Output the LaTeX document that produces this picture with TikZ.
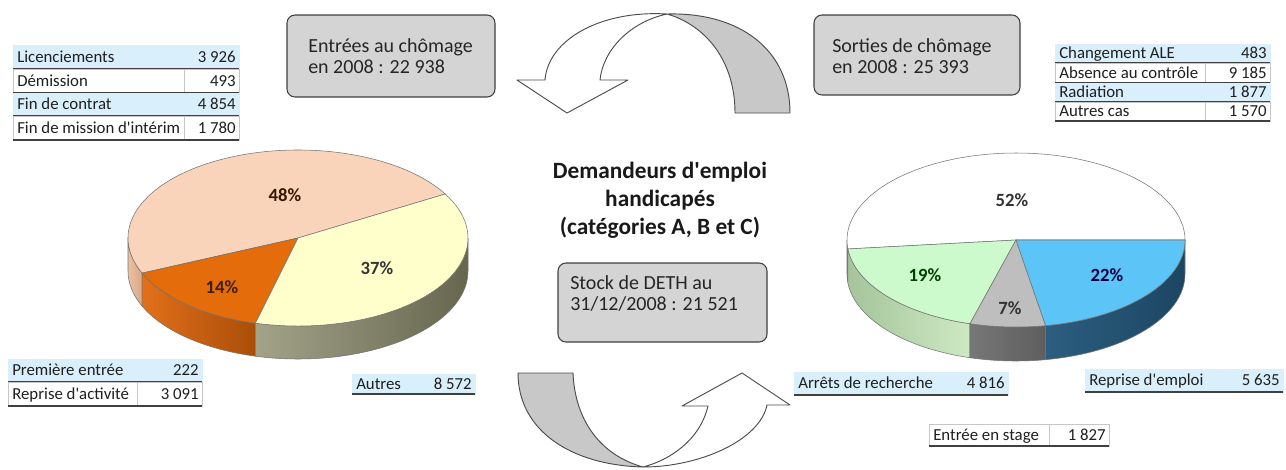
\documentclass[tikz,border=0pt]{standalone}
\usepackage{fontspec}
\setmainfont{Carlito}
\definecolor{rowblue}{HTML}{D9EFFC}
\definecolor{boxgray}{HTML}{D4D4D4}
\definecolor{arrowfill}{HTML}{C8C8C8}
\definecolor{peachtop}{HTML}{FAD4BA}
\definecolor{peachsideA}{HTML}{EBC0A2}
\definecolor{peachsideB}{HTML}{D9A886}
\definecolor{orangetop}{HTML}{E46C0A}
\definecolor{orangesideA}{HTML}{E2701A}
\definecolor{orangesideB}{HTML}{A94E08}
\definecolor{yellowtop}{HTML}{FFFFCC}
\definecolor{yellowsideA}{HTML}{A3A38A}
\definecolor{yellowsideB}{HTML}{66664F}
\definecolor{greentop}{HTML}{CCFACC}
\definecolor{greensideA}{HTML}{A5C49B}
\definecolor{greensideB}{HTML}{CDE9C4}
\definecolor{graytop}{HTML}{BEBEBE}
\definecolor{graysideA}{HTML}{777777}
\definecolor{graysideB}{HTML}{5E5E5E}
\definecolor{bluetop}{HTML}{5CC4F6}
\definecolor{bluesideA}{HTML}{2C5E80}
\definecolor{bluesideB}{HTML}{1C4662}
\newcommand\mytabfont{\fontsize{12.6}{14}\selectfont}
\newcommand\myboxfont{\fontsize{15}{15.75}\selectfont}
\newcommand\mypctfont{\bfseries\fontsize{14}{16}\selectfont}
\newcommand\mytitlefont{\bfseries\fontsize{17.5}{21}\selectfont}
\newcommand\apos{\textquotesingle}
\tikzset{
  rowline/.style={draw=black!75, line width=0.9pt},
  bluerow/.style={fill=rowblue, draw=rowblue, line width=0.5pt},
  whiterow/.style={fill=white, draw=black!22, line width=0.5pt},
  lbl/.style={anchor=base west, inner sep=0pt, font=\mytabfont, text=black!88},
  num/.style={anchor=base east, inner sep=0pt, font=\mytabfont, text=black!88},
  gbox/.style={draw=black!75, fill=boxgray, rounded corners=6pt, line width=0.8pt, inner sep=0pt},
  boxtxt/.style={align=left, inner sep=0pt, font=\myboxfont, text=black!85, anchor=west},
  pct/.style={font=\mypctfont, inner sep=0pt},
  pieedge/.style={draw=black!55, line width=0.4pt},
  arrowgray/.style={fill=arrowfill, draw=black!70, line width=0.7pt, line join=round},
  arrowwhite/.style={fill=white, draw=black!70, line width=0.7pt, line join=round},
}
% #1 x1, #2 x2, #3 xdiv, #4 y1, #5 y2, #6 style, #7 name, #8 label, #9 number
\newcommand{\tabrow}[9]{%
  \filldraw[#6] (#1,-#4) rectangle (#2,-#5);
  \draw[#6] (#3,-#4) -- (#3,-#5);
  \draw[rowline] (#1,-#5) -- (#2,-#5);
  \node[lbl] (#7-l) at ({#1+4},{-(#4+#5)/2-5.3}) {#8};
  \node[num] (#7-n) at ({#2-3},{-(#4+#5)/2-5.3}) {#9};
}
% #1 cx #2 cy #3 rx #4 ry #5 a #6 b #7 style
\newcommand{\topslice}[7]{%
  \path[#7] (#1,-#2) -- ({#1+#3*cos(#5)},{-#2+#4*sin(#5)})
    arc[start angle=#5, end angle=#6, x radius=#3, y radius=#4] -- cycle;
}
% #8 depth
\newcommand{\sideslice}[8]{%
  \path[#7] ({#1+#3*cos(#5)},{-#2+#4*sin(#5)})
    arc[start angle=#5, end angle=#6, x radius=#3, y radius=#4] -- ++(0,-#8)
    arc[start angle=#6, end angle=#5, x radius=#3, y radius=#4] -- cycle;
}
\begin{document}
\begin{tikzpicture}[x=0.75pt, y=0.75pt]
\useasboundingbox[fill=white] (0,0) rectangle (1286,-469);

% ---------- left table ----------
\tabrow{13}{239}{184}{45}{69}{bluerow}{lic}{Licenciements}{3 926}
\tabrow{13}{239}{184}{69}{93}{whiterow}{dem}{Démission}{493}
\tabrow{13}{239}{184}{93}{116}{bluerow}{fin}{Fin de contrat}{4 854}
\tabrow{13}{239}{184}{116}{140}{whiterow}{mis}{Fin de mission d\apos intérim}{1 780}

% ---------- right table ----------
\tabrow{1055}{1270}{1205}{44}{63}{bluerow}{ale}{Changement ALE}{483}
\tabrow{1055}{1270}{1205}{63}{83}{whiterow}{abs}{Absence au contrôle}{9 185}
\tabrow{1055}{1270}{1205}{83}{102}{bluerow}{rad}{Radiation}{1 877}
\tabrow{1055}{1270}{1205}{102}{121}{whiterow}{aut}{Autres cas}{1 570}

% ---------- bottom tables ----------
\tabrow{8}{202}{137}{359}{382}{bluerow}{pre}{Première entrée}{222}
\tabrow{8}{202}{137}{382}{406}{whiterow}{rep}{Reprise d\apos activité}{3 091}
\tabrow{352}{475}{352}{374}{394}{bluerow}{autres}{Autres}{8 572}
\tabrow{794}{1008}{794}{372}{395}{bluerow}{arr}{Arrêts de recherche}{4 816}
\tabrow{1085}{1283}{1085}{369}{392}{bluerow}{remp}{Reprise d\apos emploi}{5 635}
\tabrow{929}{1109}{1049}{424}{446}{whiterow}{stage}{Entrée en stage}{1 827}

% ---------- boxes ----------
\node[gbox, minimum width=156pt, minimum height=61.5pt] (entrees) at (391,-56) {};
\node[boxtxt] (entreestxt) at (308,-56.5) {Entrées au chômage\\en 2008 : 22 938};
\node[gbox, minimum width=154.5pt, minimum height=60pt] (sorties) at (917,-55) {};
\node[boxtxt] (sortiestxt) at (832,-56.5) {Sorties de chômage\\en 2008 : 25 393};
\node[gbox, minimum width=156.75pt, minimum height=59.25pt] (stock) at (662.5,-302.5) {};
\node[boxtxt] (stocktxt) at (570,-293) {Stock de DETH au\\31/12/2008 : 21 521};

% ---------- title ----------
\node[align=center, inner sep=0pt, font=\mytitlefont, text=black!90] (title) at (660,-200)
  {Demandeurs d\apos emploi\\handicapés\\(catégories A, B et C)};

% ---------- top arrow ----------
\filldraw[arrowgray] (667,-14) .. controls (740,-12) and (790,-50) .. (790,-113)
  -- (735,-113) .. controls (735,-60) and (705,-25) .. (667,-14) -- cycle;
\filldraw[arrowwhite] (667,-14) .. controls (600,-10) and (548,-40) .. (545,-80)
  -- (517,-80) -- (567,-113) -- (628,-80) -- (600,-80)
  .. controls (603,-50) and (630,-22) .. (667,-14) -- cycle;

% ---------- bottom arrow ----------
\filldraw[arrowgray] (518,-373) -- (573,-373) .. controls (575,-420) and (600,-455) .. (643,-467)
  .. controls (570,-465) and (518,-430) .. (518,-373) -- cycle;
\filldraw[arrowwhite] (643,-467) .. controls (700,-467) and (760,-440) .. (767,-405)
  -- (790,-405) -- (742,-373) -- (682,-406) -- (708,-406)
  .. controls (700,-440) and (670,-460) .. (643,-467) -- cycle;

% ---------- left pie ----------
\sideslice{298}{238}{170}{88}{180}{203.5}{pieedge, left color=peachsideA, right color=peachsideB}{33}
\sideslice{298}{238}{170}{88}{203.5}{255.5}{pieedge, left color=orangesideA, right color=orangesideB}{33}
\sideslice{298}{238}{170}{88}{255.5}{360}{pieedge, left color=yellowsideA, right color=yellowsideB}{33}
\topslice{298}{238}{170}{88}{30}{203.5}{pieedge, fill=peachtop}
\topslice{298}{238}{170}{88}{203.5}{255.5}{pieedge, fill=orangetop}
\topslice{298}{238}{170}{88}{255.5}{390}{pieedge, fill=yellowtop}
\node[pct, text=black!80!orange] (p48) at (285,-195) {48\%};
\node[pct, text=black!75!orange] (p14) at (222,-287) {14\%};
\node[pct, text=black!80] (p37) at (377,-268) {37\%};

% ---------- right pie ----------
\sideslice{1016}{240}{169}{87}{180}{185.9}{pieedge, fill=white}{34}
\sideslice{1016}{240}{169}{87}{185.9}{254.2}{pieedge, left color=greensideA, right color=greensideB}{34}
\sideslice{1016}{240}{169}{87}{254.2}{280.1}{pieedge, left color=graysideA, right color=graysideB}{34}
\sideslice{1016}{240}{169}{87}{280.1}{360}{pieedge, left color=bluesideA, right color=bluesideB}{34}
\topslice{1016}{240}{169}{87}{0}{185.9}{pieedge, fill=white}
\topslice{1016}{240}{169}{87}{185.9}{254.2}{pieedge, fill=greentop}
\topslice{1016}{240}{169}{87}{254.2}{280.1}{pieedge, fill=graytop}
\topslice{1016}{240}{169}{87}{280.1}{360}{pieedge, fill=bluetop}
\node[pct, text=black!80] (p52) at (1012,-200) {52\%};
\node[pct, text=black!75!green] (p19) at (925,-275) {19\%};
\node[pct, text=black!75!blue] (p22) at (1107,-275) {22\%};
\node[pct, text=black!80] (p7) at (1010,-308) {7\%};
\end{tikzpicture}
\end{document}
